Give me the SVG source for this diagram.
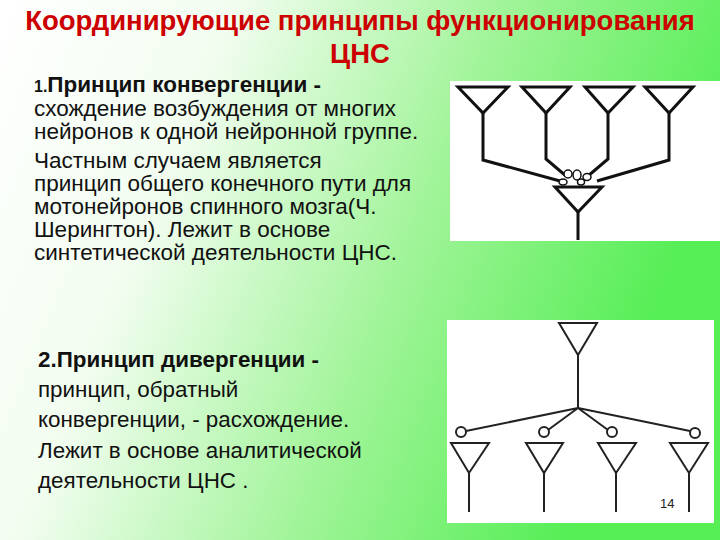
<svg xmlns="http://www.w3.org/2000/svg" width="720" height="540" viewBox="0 0 720 540">
<defs>
<linearGradient id="bg" x1="0" y1="0" x2="1" y2="0.3">
<stop offset="0" stop-color="#ffffff"/>
<stop offset="0.3" stop-color="#f2fdf0"/>
<stop offset="0.65" stop-color="#a0f498"/>
<stop offset="1" stop-color="#55ee55"/>
</linearGradient>
<style>
.t{font-family:"Liberation Sans",Arial,sans-serif;font-size:22.5px;fill:#111}
.t2{font-size:22.4px}
.b{font-weight:bold}
.ttl{font-family:"Liberation Sans",Arial,sans-serif;font-size:27.5px;font-weight:bold;fill:#cc0000;text-anchor:middle}
.ln{stroke:#111;stroke-width:3;fill:none}
.ln2{stroke:#222;stroke-width:2;fill:none}
</style>
</defs>
<rect width="720" height="540" fill="url(#bg)"/>
<text class="ttl" x="360" y="30">Координирующие принципы функционирования</text>
<text class="ttl" x="360" y="63">ЦНС</text>
<g id="text1" class="t">
<text x="34" y="92" class="b" font-size="22.5"><tspan font-size="16">1.</tspan>Принцип конвергенции -</text>
<text x="34" y="116">схождение возбуждения от многих</text>
<text x="34" y="139">нейронов к одной нейронной группе.</text>
<text x="34" y="168">Частным случаем является</text>
<text x="34" y="191">принцип общего конечного пути для</text>
<text x="34" y="214">мотонейронов спинного мозга(Ч.</text>
<text x="34" y="237">Шерингтон). Лежит в основе</text>
<text x="34" y="260">синтетической деятельности ЦНС.</text>
</g>
<g id="text2" class="t t2">
<text x="38" y="367" class="b">2.Принцип дивергенции -</text>
<text x="38" y="397">принцип, обратный</text>
<text x="38" y="427">конвергенции, - расхождение.</text>
<text x="38" y="458">Лежит в основе аналитической</text>
<text x="38" y="488">деятельности ЦНС .</text>
</g>
<g id="convergence">
<rect x="450" y="81" width="270" height="160" fill="#fff"/>
<g class="ln">
<path d="M458 87 H508 L483 113 Z"/>
<path d="M522 87 H570 L546 113 Z"/>
<path d="M585 87 H633 L608 113 Z"/>
<path d="M645 87 H693 L669 113 Z"/>
<path d="M483 113 V160 L560 181"/>
<path d="M546 113 V159 L566 176"/>
<path d="M608 113 V159 L588 176"/>
<path d="M669 113 V160 L597 181"/>
<path d="M555 187 H602 L578 212 Z"/>
<path d="M578 212 V240"/>
</g>
<g stroke="#111" stroke-width="1.5" fill="#fff">
<ellipse cx="568" cy="174" rx="4" ry="4"/>
<ellipse cx="577" cy="175" rx="4" ry="5"/>
<ellipse cx="587" cy="177" rx="4" ry="3.5"/>
<ellipse cx="563" cy="182" rx="4" ry="3"/>
<ellipse cx="581" cy="182" rx="3.5" ry="3"/>
</g>
</g>
<g id="divergence">
<rect x="447" y="320" width="267" height="203" fill="#fff"/>
<g class="ln2">
<path d="M559 323 H597 L578 355 Z"/>
<path d="M578 355 V408"/>
<path d="M578 408 L466 431 M578 408 L548 430 M578 408 L608 430 M578 408 L690 431"/>
<circle cx="461" cy="432" r="5"/>
<circle cx="544" cy="432" r="5"/>
<circle cx="612" cy="432" r="5"/>
<circle cx="695" cy="433" r="5"/>
<path d="M451 443 H489 L469 473 Z"/>
<path d="M526 443 H563 L544 473 Z"/>
<path d="M598 443 H636 L616 473 Z"/>
<path d="M670 443 H708 L689 473 Z"/>
<path d="M469 473 V512 M544 473 V512 M616 473 V512 M689 473 V512"/>
</g>
<text x="660" y="508" font-family="Liberation Sans,Arial,sans-serif" font-size="13" fill="#222">14</text>
</g>
</svg>
